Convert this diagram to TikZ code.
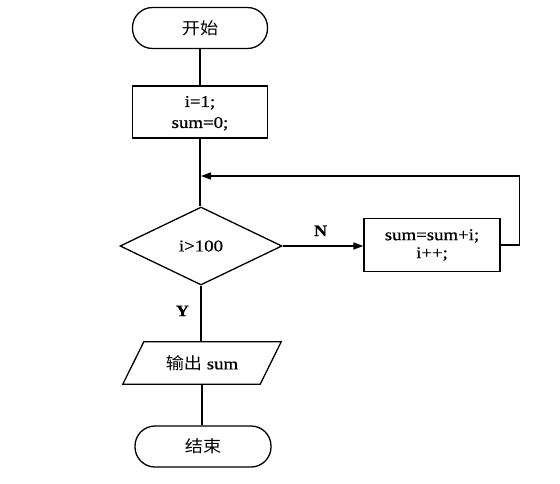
\documentclass[tikz,border=0pt]{standalone}
\usepackage{fontspec}
\setmainfont{Liberation Serif}[FakeStretch=1.14,FakeBold=0.6]
\newfontfamily\cjk{Noto Sans CJK SC}[FakeStretch=1.1]
\usetikzlibrary{shapes.geometric,arrows.meta,calc}
\begin{document}
\begin{tikzpicture}[x=1pt,y=-1pt,
  every node/.style={font=\fontsize{16.5}{18}\selectfont},
  base/.style={draw,line width=1.3pt,inner sep=0pt,align=center},
  term/.style={base,rectangle,rounded corners=20pt,minimum width=135pt,minimum height=41pt},
  proc/.style={base,rectangle,minimum width=135pt},
  decide/.style={base,diamond,minimum width=162pt,minimum height=78pt},
  lbl/.style={font=\fontsize{16}{18}\selectfont\bfseries},
  conn/.style={line width=1.3pt},
  arr/.style={conn,-{Triangle[length=10pt,width=7pt]}}]
\path[use as bounding box] (0,0) rectangle (560,483);
\node[term] (start) at (200,28) {\cjk 开始};
\node[proc,minimum height=52pt,text depth=0pt] (init) at (200,112) {i=1;\\[3pt]sum=0;};
\node[decide] (dec) at (201,246) {i>100};
\node[proc,minimum width=136pt,minimum height=53pt] (sum) at (432,245) {sum=sum+i;\\i++;};
\node[inner sep=0pt,minimum width=137pt,minimum height=42pt] (out) at (202,363) {{\cjk 输出} sum};
\draw[line width=1.3pt] ($(out.north west)+(10.5,0)$) -- ($(out.north east)+(10.5,0)$)
  -- ($(out.south east)+(-10.5,0)$) -- ($(out.south west)+(-10.5,0)$) -- cycle;
\node[term,minimum width=136pt] (end) at (203,446.5) {\cjk 结束};
\coordinate (loopin) at (201,176);
\draw[conn] (start.south) -- (start.south |- init.north);
\draw[conn] (init.south) -- (init.south |- dec.north);
\draw[arr] (dec.east) -- (dec.east -| sum.west) node[lbl,pos=0.47,above=6pt] {N};
\draw[arr] (sum.east) -- ++(19,0) |- (loopin);
\draw[conn] (dec.south) -- (dec.south |- out.north) node[lbl,pos=0.45,left=8pt] {Y};
\draw[conn] (out.south) -- (out.south |- end.north);
\end{tikzpicture}
\end{document}
